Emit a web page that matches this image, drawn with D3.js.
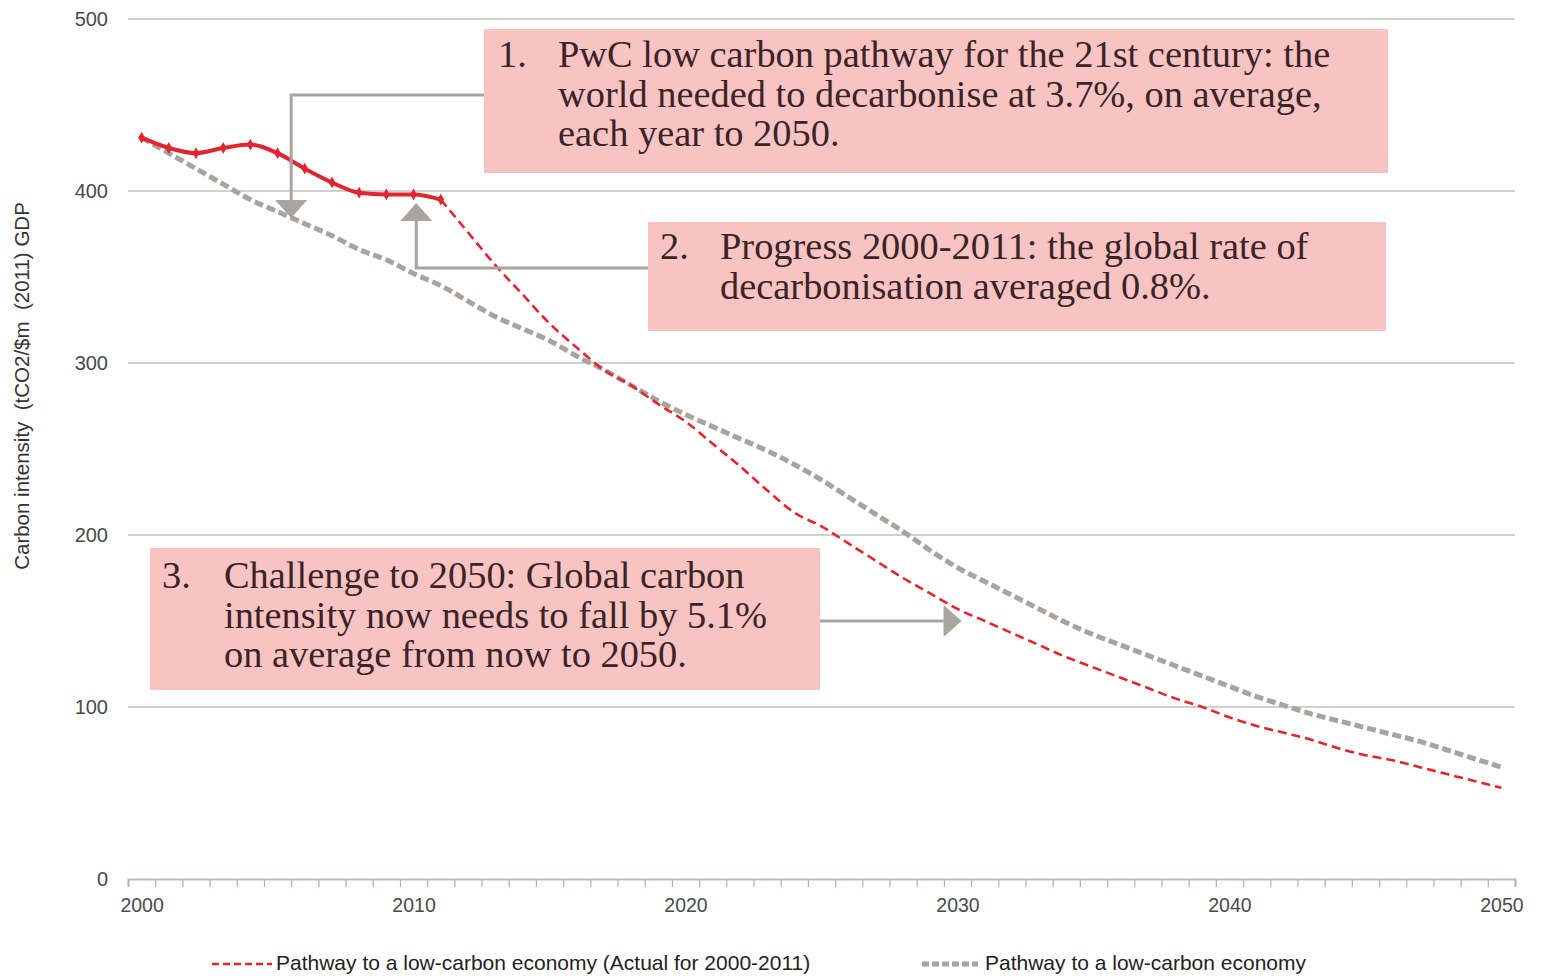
<!DOCTYPE html>
<html>
<head>
<meta charset="utf-8">
<script src="https://cdn.jsdelivr.net/npm/d3@7"></script>
<style>
  html, body { margin: 0; padding: 0; background: #ffffff; }
  svg { display: block; }
</style>
</head>
<body>
<svg id="chart" width="1542" height="976"></svg>
<script>
// ---------------- DATA ----------------
const years = d3.range(2000, 2051);
const actualEndYear = 2011;
// Pathway to a low-carbon economy (Actual for 2000-2011), then projection
const redValues = [
  431, 425, 422, 425, 427, 422, 413, 405, 399, 398, 398, 395,
  376, 357, 340, 323, 309, 296, 287, 276, 266, 253, 240, 226, 213, 205,
  195, 185, 175, 166, 157, 150, 143, 136, 129, 123, 117, 111, 105, 100,
  94, 89, 85, 81, 76, 72, 69, 65, 61, 57, 53
];
// Pathway to a low-carbon economy
const greyValues = [
  431, 422, 413, 404, 395, 388, 381, 374, 366, 360, 352, 345,
  336, 327, 320, 313, 304, 296, 287, 278, 270, 263, 256, 249, 241, 232,
  222, 212, 202, 191, 181, 173, 165, 157, 149, 142, 136, 130, 124, 118,
  112, 106, 101, 96, 92, 88, 84, 80, 75, 70, 65
];
const yTicks = [0, 100, 200, 300, 400, 500];
const xLabelYears = [2000, 2010, 2020, 2030, 2040, 2050];
const yTitle = "Carbon intensity  (tCO2/$m  (2011) GDP";
const legendLabels = ["Pathway to a low-carbon economy (Actual for 2000-2011)", "Pathway to a low-carbon economy"];
const notes = [
  { num: "1.", lines: ["PwC low carbon pathway for the 21st century: the", "world needed to decarbonise at 3.7%, on average,", "each year to 2050."] },
  { num: "2.", lines: ["Progress 2000-2011: the global rate of", "decarbonisation averaged 0.8%."] },
  { num: "3.", lines: ["Challenge to 2050: Global carbon", "intensity now needs to fall by 5.1%", "on average from now to 2050."] }
];

// ---------------- LAYOUT ----------------
const svg = d3.select("#chart");
const plot = { left: 128, right: 1515, top: 19, bottom: 879 };
const x = d3.scaleLinear().domain([1999.5, 2050.5]).range([plot.left, plot.right]);
const y = d3.scaleLinear().domain([0, 500]).range([plot.bottom, plot.top]);

const sans = "'Liberation Sans', Arial, Helvetica, sans-serif";
const serif = "'Liberation Serif', 'Times New Roman', serif";
const red = "#e3262e";
const grey = "#a8a39e";
const arrowCol = "#a9a49f";
const pink = "#f8c3c3";
const noteText = "#3b2326";

// gridlines
svg.append("g")
  .selectAll("line")
  .data(yTicks.filter(d => d > 0))
  .join("line")
  .attr("x1", plot.left).attr("x2", plot.right)
  .attr("y1", d => y(d)).attr("y2", d => y(d))
  .attr("stroke", "#c3c0bc").attr("stroke-width", 1.5);

// y axis labels
const yAxis = d3.axisLeft(y).tickValues(yTicks).tickSize(0).tickPadding(20);
const gy = svg.append("g").attr("transform", `translate(${plot.left},0)`).call(yAxis);
gy.select(".domain").remove();
gy.selectAll("text").attr("font-family", sans).attr("font-size", 20).attr("fill", "#4a4a4a");

// x axis: ticks at category boundaries
const boundaries = d3.range(1999.5, 2051, 1);
const xAxisTicks = d3.axisBottom(x).tickValues(boundaries).tickSize(8).tickFormat("");
const gx = svg.append("g").attr("transform", `translate(0,${plot.bottom})`).call(xAxisTicks);
gx.select(".domain").attr("stroke", "#c7b9aa").attr("stroke-width", 2);
gx.selectAll(".tick line").attr("stroke", "#b9ac9e").attr("stroke-width", 1.2);

const xAxisLabels = d3.axisBottom(x).tickValues(xLabelYears).tickSize(0).tickPadding(19).tickFormat(d3.format("d"));
const gxl = svg.append("g").attr("transform", `translate(0,${plot.bottom})`).call(xAxisLabels);
gxl.select(".domain").remove();
gxl.selectAll("text").attr("font-family", sans).attr("font-size", 19.5).attr("fill", "#4a4a4a");

// y title
svg.append("text")
  .attr("transform", `translate(29,386) rotate(-90)`)
  .attr("text-anchor", "middle")
  .attr("font-family", sans).attr("font-size", 20.5).attr("fill", "#333")
  .attr("xml:space", "preserve")
  .style("white-space", "pre")
  .text(yTitle);

// ---------------- SERIES ----------------
const redData = years.map((yr, i) => ({ yr, v: redValues[i] }));
const greyData = years.map((yr, i) => ({ yr, v: greyValues[i] }));
const line = d3.line().x(d => x(d.yr)).y(d => y(d.v)).curve(d3.curveMonotoneX);

svg.append("path")
  .datum(greyData)
  .attr("d", line)
  .attr("fill", "none").attr("stroke", grey).attr("stroke-width", 5)
  .attr("stroke-dasharray", "9,4");

svg.append("path")
  .datum(redData.filter(d => d.yr >= actualEndYear))
  .attr("d", line)
  .attr("fill", "none").attr("stroke", red).attr("stroke-width", 2.6)
  .attr("stroke-dasharray", "9,5");

const actual = redData.filter(d => d.yr <= actualEndYear);
svg.append("path")
  .datum(actual)
  .attr("d", line)
  .attr("fill", "none").attr("stroke", red).attr("stroke-width", 4);
svg.append("g").selectAll("path")
  .data(actual)
  .join("path")
  .attr("d", d3.symbol(d3.symbolDiamond, 40))
  .attr("transform", d => `translate(${x(d.yr)},${y(d.v)})`)
  .attr("fill", red);

// ---------------- ANNOTATIONS ----------------
const boxes = [
  { x0: 484, y0: 29, x1: 1388, y1: 173, numX: 498, textX: 558, base: 67 },
  { x0: 648, y0: 222, x1: 1386, y1: 331, numX: 660, textX: 720, base: 259 },
  { x0: 150, y0: 548, x1: 820, y1: 690, numX: 162, textX: 224, base: 588 }
];
const lineGap = 39.6;

// arrows (drawn under boxes)
const ag = svg.append("g").attr("fill", arrowCol).attr("stroke", arrowCol);
// 1: from box 1 down to the pathway around 2005-2006
const a1x = x(2005.5);
ag.append("polyline").attr("points", `${boxes[0].x0},95 ${a1x},95 ${a1x},201`).attr("fill", "none").attr("stroke-width", 3);
ag.append("path").attr("d", `M${a1x - 16},200 L${a1x + 16},200 L${a1x},218 Z`).attr("stroke", "none");
// 2: from box 2 up to actual 2010
const a2x = x(2010.1);
ag.append("polyline").attr("points", `${boxes[1].x0},268 ${a2x},268 ${a2x},220`).attr("fill", "none").attr("stroke-width", 3);
ag.append("path").attr("d", `M${a2x - 16},221 L${a2x + 16},221 L${a2x},203 Z`).attr("stroke", "none");
// 3: from box 3 right to the 2030 projection
const a3x = x(2030.15);
ag.append("line").attr("x1", boxes[2].x1).attr("x2", a3x - 16).attr("y1", 621).attr("y2", 621).attr("stroke-width", 3);
ag.append("path").attr("d", `M${a3x - 18},605 L${a3x - 18},637 L${a3x},621 Z`).attr("stroke", "none");

// size the note font so the widest reference line matches the original width
const probe = svg.append("text").attr("font-family", serif).attr("font-size", 34).text(notes[0].lines[1]);
const noteFont = 34 * 764 / probe.node().getComputedTextLength();
probe.remove();

notes.forEach((n, i) => {
  const b = boxes[i];
  const g = svg.append("g");
  g.append("rect").attr("x", b.x0).attr("y", b.y0).attr("width", b.x1 - b.x0).attr("height", b.y1 - b.y0).attr("fill", pink);
  g.append("text").attr("x", b.numX).attr("y", b.base)
    .attr("font-family", serif).attr("font-size", noteFont).attr("fill", noteText).text(n.num);
  n.lines.forEach((t, j) => {
    g.append("text").attr("x", b.textX).attr("y", b.base + j * lineGap)
      .attr("font-family", serif).attr("font-size", noteFont).attr("fill", noteText).text(t);
  });
});

// ---------------- LEGEND ----------------
const lg = svg.append("g").attr("font-family", sans).attr("font-size", 21).attr("fill", "#222");
lg.append("line").attr("x1", 212).attr("x2", 272).attr("y1", 964).attr("y2", 964)
  .attr("stroke", red).attr("stroke-width", 2.6).attr("stroke-dasharray", "7,4");
lg.append("text").attr("x", 276).attr("y", 970).text(legendLabels[0]);
lg.append("line").attr("x1", 922).attr("x2", 978).attr("y1", 964).attr("y2", 964)
  .attr("stroke", grey).attr("stroke-width", 5).attr("stroke-dasharray", "7,3");
lg.append("text").attr("x", 985).attr("y", 970).text(legendLabels[1]);
</script>
</body>
</html>
